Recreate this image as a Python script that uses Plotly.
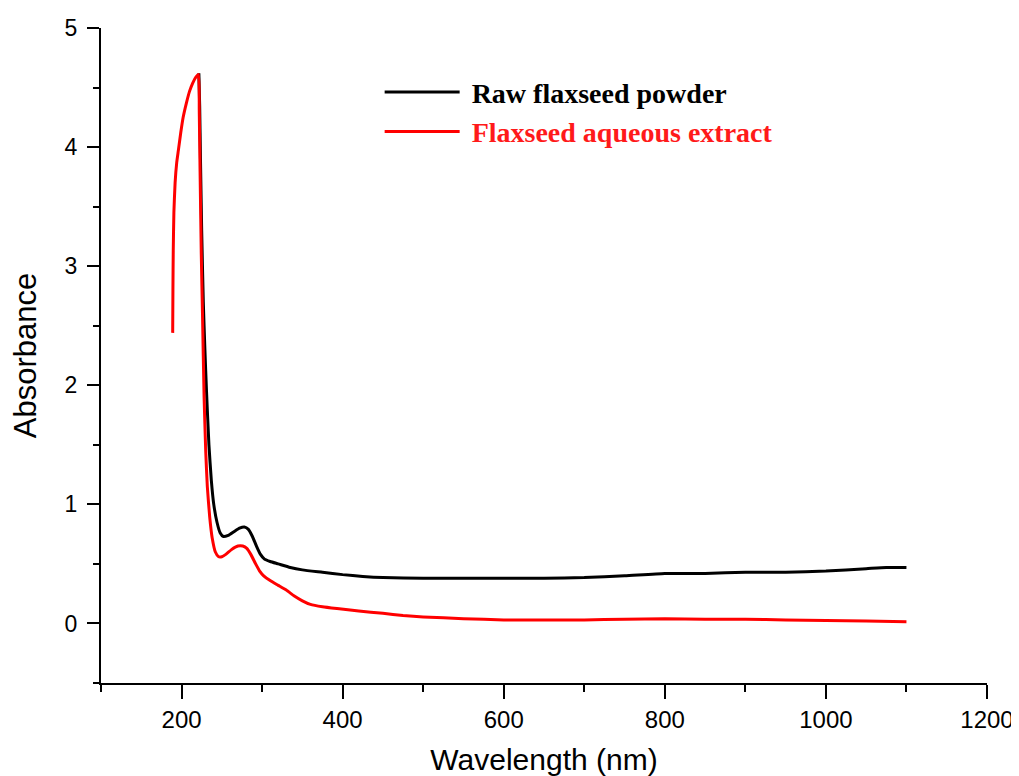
import plotly.graph_objects as go

# Raw flaxseed powder (black)
raw_nm = [221.5, 222.5, 223.5, 225, 227, 229, 231, 234, 237, 240, 244, 248, 252, 258,
          265, 272, 278, 283, 288, 293, 298, 303, 310, 320, 335, 350, 375, 400, 425,
          450, 500, 550, 600, 650, 700, 750, 800, 850, 900, 950, 1000, 1050, 1075, 1100]
raw_abs = [4.62, 4.35, 3.9, 3.3, 2.7, 2.3, 1.95, 1.5, 1.2, 1.0, 0.85, 0.76, 0.73, 0.74,
           0.77, 0.80, 0.81, 0.79, 0.73, 0.65, 0.58, 0.54, 0.52, 0.50, 0.47, 0.45, 0.43, 0.41, 0.395,
           0.385, 0.38, 0.38, 0.38, 0.38, 0.385, 0.40, 0.42, 0.42, 0.43, 0.43, 0.44, 0.46, 0.47, 0.47]

# Flaxseed aqueous extract (red)
ext_nm = [189, 189.3, 189.7, 190.5, 192, 194, 196, 199, 202, 206, 210, 214, 218, 221, 222, 223,
          224.5, 226, 228, 230, 232, 235, 238, 242, 246, 250, 255, 262, 270, 276, 281, 286,
          292, 297, 302, 310, 320, 330, 340, 350, 360, 375, 393, 420, 450, 475, 500, 550,
          600, 700, 750, 800, 850, 900, 950, 1000, 1050, 1100]
ext_abs = [2.44, 2.8, 3.13, 3.45, 3.70, 3.87, 3.97, 4.12, 4.25, 4.37, 4.47, 4.54, 4.59, 4.61, 4.3, 3.8,
           3.1, 2.6, 1.9, 1.45, 1.15, 0.89, 0.72, 0.6, 0.56, 0.56, 0.58, 0.62, 0.65, 0.65, 0.63, 0.58,
           0.50, 0.44, 0.40, 0.36, 0.32, 0.28, 0.23, 0.19, 0.16, 0.14, 0.125, 0.105, 0.085, 0.067, 0.055, 0.04,
           0.03, 0.03, 0.035, 0.04, 0.035, 0.035, 0.03, 0.025, 0.02, 0.015]

fig = go.Figure()
fig.add_trace(go.Scatter(x=raw_nm, y=raw_abs, mode="lines",
                         name="&nbsp;<b>Raw flaxseed powder</b>",
                         line=dict(color="black", width=3, shape="spline", smoothing=0.5)))
fig.add_trace(go.Scatter(x=ext_nm, y=ext_abs, mode="lines",
                         name="&nbsp;<b><span style='color:#ff1a1a'>Flaxseed aqueous extract</span></b>",
                         line=dict(color="#ff0000", width=3, shape="spline", smoothing=0.5)))

axis_common = dict(
    showline=True, linewidth=2, linecolor="black",
    ticks="outside", tickwidth=2, tickcolor="black",
    showgrid=False, zeroline=False, mirror=False, automargin=False,
    ticklabeloverflow="allow",
)

# page body has an 8px margin, so the figure is offset by 8px
fig.update_layout(
    width=1011, height=768,
    margin=dict(l=93, r=32, t=20, b=93),
    plot_bgcolor="white", paper_bgcolor="white",
    font=dict(family="Liberation Sans, Arial", color="black"),
    xaxis=dict(axis_common, range=[100, 1200], tick0=0, dtick=200, ticklen=14,
               minor=dict(dtick=100, ticklen=7, tickwidth=2, ticks="outside", tickcolor="black"),
               tickfont=dict(size=24),
               title=dict(text="Wavelength (nm)", font=dict(size=30), standoff=22)),
    yaxis=dict(axis_common, range=[-0.5, 5], tick0=0, dtick=1, ticklen=12,
               minor=dict(dtick=0.5, ticklen=6, tickwidth=2, ticks="outside", tickcolor="black"),
               tickfont=dict(size=23), ticklabelstandoff=5,
               title=dict(text="Absorbance", font=dict(size=31), standoff=20)),
    legend=dict(x=0.3145, y=0.94, xanchor="left", yanchor="top",
                bgcolor="rgba(0,0,0,0)", itemwidth=75,
                font=dict(family="Liberation Serif, Times New Roman", size=28, color="black")),
)

fig.write_html("out.html")
